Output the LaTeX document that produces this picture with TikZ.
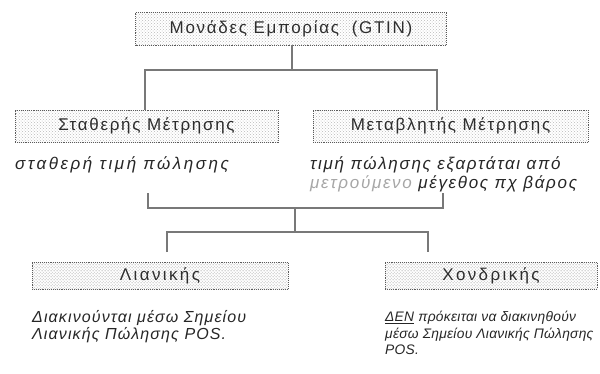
\documentclass[tikz,border=0pt]{standalone}
\usepackage{fontspec}
\setmainfont{Liberation Sans}
\newfontfamily\boxfont[LetterSpace=10]{Liberation Sans}
\newfontfamily\hatchfont[LetterSpace=14]{Liberation Sans}
\newfontfamily\notefont[LetterSpace=7]{Liberation Sans}
\newfontfamily\tightnotefont[LetterSpace=2]{Liberation Sans}
\newfontfamily\midnotefont[LetterSpace=10]{Liberation Sans}
\newfontfamily\widenotefont[LetterSpace=15]{Liberation Sans}
\usetikzlibrary{patterns}

\definecolor{boxline}{RGB}{90,90,90}
\definecolor{boxtext}{RGB}{45,45,45}
\definecolor{wire}{RGB}{120,120,120}

\tikzset{
  dotbox/.style={draw=boxline, densely dotted, line width=0.9pt,
    pattern=crosshatch dots, pattern color=gray!55,
    inner sep=0pt, text=boxtext, font=\boxfont\fontsize{17}{20}\selectfont},
  hatchbox/.style={draw=boxline, densely dotted, line width=0.9pt,
    pattern=crosshatch, pattern color=gray!40,
    inner sep=0pt, text=boxtext, font=\hatchfont\fontsize{17}{20}\selectfont},
  note/.style={anchor=north west, inner sep=0pt, align=left, text=black!85,
    font=\notefont\itshape\fontsize{16}{17}\selectfont},
  tightnote/.style={note, font=\tightnotefont\itshape\fontsize{13.8}{16.5}\selectfont},
  midnote/.style={note, font=\midnotefont\itshape\fontsize{17}{19}\selectfont},
  wire/.style={draw=wire, line width=2pt}
}

\begin{document}
\begin{tikzpicture}[x=1pt, y=-1pt, line cap=butt, line join=miter]

  %% ════ πλαίσια ════
  \node[dotbox, minimum width=311pt, minimum height=33pt] (gtin) at (291,28.5)
    {Μονάδες Εμπορίας\ \ (GTIN)};
  \node[dotbox, minimum width=263pt, minimum height=32pt] (stath) at (146.5,126)
    {Σταθερής Μέτρησης};
  \node[dotbox, minimum width=275pt, minimum height=32pt] (metav) at (450.5,126)
    {Μεταβλητής Μέτρησης};
  \node[hatchbox, minimum width=256pt, minimum height=27pt] (lian) at (160,275.5)
    {Λιανικής};
  \node[hatchbox, minimum width=212pt, minimum height=27pt] (chond) at (491,275.5)
    {Χονδρικής};

  %% ════ κείμενα ════
  \node[midnote, font=\widenotefont\itshape\fontsize{17}{19}\selectfont] (stathtxt) at (15,156)
    {σταθερή τιμή πώλησης};
  \node[midnote] (metavtxt) at (310,156)
    {τιμή πώλησης εξαρτάται από\\{\color{gray!70}μετρούμενο} μέγεθος πχ βάρος};
  \node[note] (liantxt) at (32,310)
    {Διακινούνται μέσω Σημείου\\Λιανικής Πώλησης POS.};
  \node[tightnote] (chondtxt) at (385,311)
    {\underline{ΔΕΝ} πρόκειται να διακινηθούν\\μέσω Σημείου Λιανικής Πώλησης\\POS.};

  %% ════ γραμμές ════
  \coordinate (bus) at (292,70);
  \coordinate (busl) at (145,70);
  \coordinate (busr) at (437,70);
  \draw[wire] (gtin.south -| bus) -- (bus);
  \draw[wire] (stath.north -| busl) -- (busl) -- (busr) -- (metav.north -| busr);

  % αγκύλη
  \coordinate (brl) at (148,193);
  \coordinate (brr) at (443,193);
  \coordinate (stem) at (295,208);
  \coordinate (fork) at (295,232);
  \coordinate (forkl) at (167,252);
  \coordinate (forkr) at (428,252);
  \draw[wire] (brl) |- (stem) -| (brr);
  \draw[wire] (stem) -- (fork);
  \draw[wire] (forkl) |- (fork) -| (forkr);

  \pgfresetboundingbox
  \path[use as bounding box] (0,0) rectangle (600,373);
\end{tikzpicture}
\end{document}
